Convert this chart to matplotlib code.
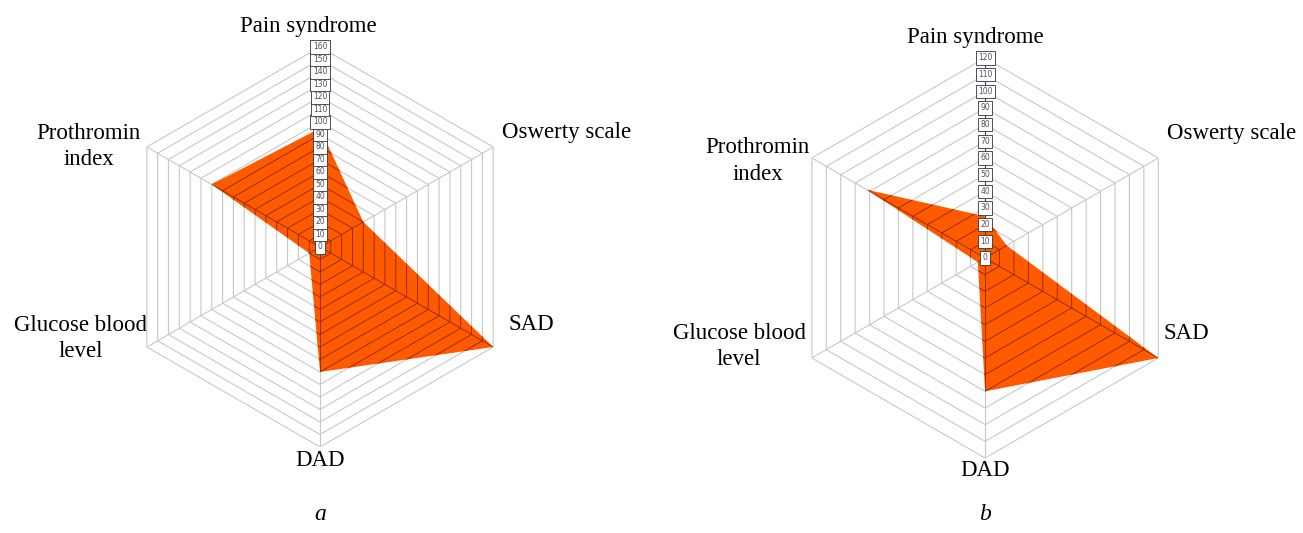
import matplotlib.pyplot as plt
import numpy as np

categories = ['Pain syndrome', 'Oswerty scale', 'SAD', 'DAD',
              'Glucose blood\nlevel', 'Prothromin\nindex']

# chart a
values_a = [95, 40, 160, 100, 10, 100]
max_a = 160
ticks_a = list(range(0, 161, 10))

# chart b
values_b = [25, 15, 120, 80, 5, 82]
max_b = 120
ticks_b = list(range(0, 121, 10))

# where the category names sit, in axes fraction
label_pos_a = [(0.47, 1.05, 'center'), (0.955, 0.785, 'left'), (0.97, 0.305, 'left'),
               (0.5, -0.033, 'center'), (-0.098, 0.271, 'center'), (-0.078, 0.751, 'center')]
label_pos_b = [(0.475, 1.052, 'center'), (0.955, 0.81, 'left'), (0.945, 0.312, 'left'),
               (0.5, -0.03, 'center'), (-0.115, 0.279, 'center'), (-0.068, 0.742, 'center')]

plt.rcParams['font.family'] = ['Liberation Serif', 'DejaVu Serif']

grid_col = '#c8c8c8'
fill_col = '#ff5a00'


def radar(ax, values, rmax, ticks, label_pos):
    n = len(categories)
    theta = np.arange(n) * 2 * np.pi / n
    theta_c = np.append(theta, theta[0])
    ax.set_theta_zero_location('N')
    ax.set_theta_direction(-1)
    ax.set_ylim(0, rmax)
    ax.set_axis_off()

    # hexagon rings and spokes
    for t in ticks[1:]:
        ax.plot(theta_c, [t] * (n + 1), color=grid_col, lw=0.8, zorder=1)
    for th in theta[1:]:
        ax.plot([th, th], [0, rmax], color=grid_col, lw=0.8, zorder=1)

    vals = np.append(values, values[0])
    poly = ax.fill(theta_c, vals, color=fill_col, lw=0, zorder=2)[0]

    # grid lines showing through the filled area
    for t in ticks[1:]:
        l, = ax.plot(theta_c, [t] * (n + 1), color='#8a2800', lw=0.6, zorder=3)
        l.set_clip_path(poly)
    for th in theta[1:]:
        l, = ax.plot([th, th], [0, rmax], color='#8a2800', lw=0.6, zorder=3)
        l.set_clip_path(poly)

    # value axis with boxed tick labels
    ax.plot([0, 0], [0, rmax], color='#444444', lw=0.8, zorder=4)
    for t in ticks:
        ax.text(0, t, str(t), ha='center', va='center', fontsize=5.5,
                color='#5a4a6a', family='DejaVu Sans', zorder=5,
                bbox=dict(boxstyle='square,pad=0.3', fc='white', ec='#333333', lw=0.6))

    for name, (x, y, ha) in zip(categories, label_pos):
        ax.text(x, y, name, transform=ax.transAxes, ha=ha, va='center',
                fontsize=16.5, linespacing=1.35)


fig = plt.figure(figsize=(13.03, 5.33), dpi=100)
ax1 = fig.add_axes([0.0921, 0.1614, 0.307, 0.7505], projection='polar')
ax2 = fig.add_axes([0.6025, 0.1407, 0.307, 0.7505], projection='polar')

radar(ax1, values_a, max_a, ticks_a, label_pos_a)
radar(ax2, values_b, max_b, ticks_b, label_pos_b)

fig.text(0.2456, 0.034, 'a', ha='center', va='center', fontsize=17, style='italic')
fig.text(0.756, 0.034, 'b', ha='center', va='center', fontsize=17, style='italic')

plt.savefig('out.png', dpi=100)
